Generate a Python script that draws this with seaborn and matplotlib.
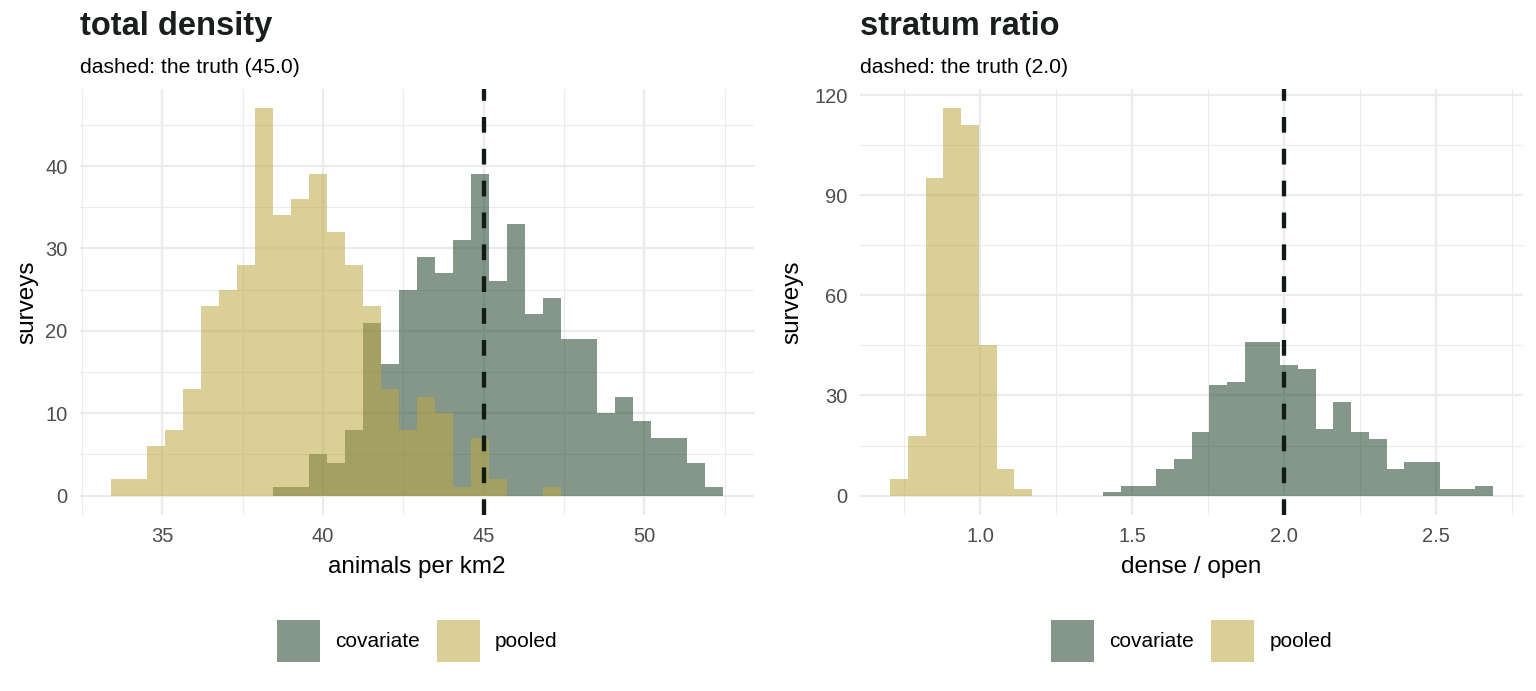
import numpy as np
import pandas as pd
import seaborn as sns
import matplotlib.pyplot as plt
from matplotlib.patches import Patch
from matplotlib.ticker import MultipleLocator

# ---- data (400 simulated surveys per method) ----
methods = ["covariate", "pooled"]

# panel 1: total density, 34 shared bins
dens_lo, dens_hi, dens_nbins = 33.39, 52.46, 34
dens_covariate = [0, 0, 0, 0, 0, 0, 0, 0, 0, 1, 1, 5, 4, 8, 21, 16, 25,
                  29, 27, 31, 39, 26, 33, 22, 24, 19, 19, 10, 12, 9, 7, 7, 4, 1]
dens_pooled = [2, 2, 6, 8, 13, 23, 25, 28, 47, 34, 36, 39, 32, 28, 23, 13, 8,
               12, 10, 1, 7, 2, 0, 0, 1, 0, 0, 0, 0, 0, 0, 0, 0, 0]
dens_truth = 45.0

# panel 2: stratum ratio, 34 shared bins
ratio_lo, ratio_hi, ratio_nbins = 0.704, 2.6875, 34
ratio_covariate = [0, 0, 0, 0, 0, 0, 0, 0, 0, 0, 0, 0, 1, 3, 3, 8, 11,
                   19, 33, 34, 46, 46, 39, 38, 20, 28, 19, 17, 8, 10, 10, 2, 2, 3]
ratio_pooled = [5, 18, 95, 116, 111, 45, 8, 2, 0, 0, 0, 0, 0, 0, 0, 0, 0,
                0, 0, 0, 0, 0, 0, 0, 0, 0, 0, 0, 0, 0, 0, 0, 0, 0]
ratio_truth = 2.0

colors = {"covariate": "#1f422a", "pooled": "#bda842"}
ALPHA = 0.55

sns.set_style("white")
plt.rcParams["font.family"] = ["Liberation Sans", "DejaVu Sans"]


def make_df(lo, hi, n, cov, pooled):
    edges = np.linspace(lo, hi, n + 1)
    mids = (edges[:-1] + edges[1:]) / 2
    df = pd.DataFrame({
        "value": np.concatenate([mids, mids]),
        "count": cov + pooled,
        "method": ["covariate"] * n + ["pooled"] * n,
    })
    return df, edges.tolist()


fig = plt.figure(figsize=(15.36, 6.91), dpi=100)
W, H = 1536, 691
ax1 = fig.add_axes([80 / W, 1 - 515 / H, 674 / W, 426 / H])
ax2 = fig.add_axes([860 / W, 1 - 515 / H, 663 / W, 426 / H])

panels = [
    (ax1, make_df(dens_lo, dens_hi, dens_nbins, dens_covariate, dens_pooled),
     dens_truth, "total density", "dashed: the truth (45.0)", "animals per km2",
     5, 2.5, 10, 5, "{:.0f}"),
    (ax2, make_df(ratio_lo, ratio_hi, ratio_nbins, ratio_covariate, ratio_pooled),
     ratio_truth, "stratum ratio", "dashed: the truth (2.0)", "dense / open",
     0.5, 0.25, 30, 15, "{:.1f}"),
]

for ax, (df, edges), truth, title, subtitle, xlab, xmaj, xmin, ymaj, ymin, fmt in panels:
    # covariate first, pooled layered on top
    for m in methods:
        sns.histplot(data=df[df["method"] == m], x="value", weights="count",
                     bins=edges, stat="count", element="bars",
                     color=colors[m], alpha=ALPHA, linewidth=0, ax=ax)
    ax.axvline(truth, color="#111a15", lw=3.1, dashes=(3.65, 3.75), zorder=5)

    ax.use_sticky_edges = False
    ax.margins(x=0.05, y=0.05)
    ax.autoscale_view()

    ax.xaxis.set_major_locator(MultipleLocator(xmaj))
    ax.xaxis.set_minor_locator(MultipleLocator(xmin))
    ax.yaxis.set_major_locator(MultipleLocator(ymaj))
    ax.yaxis.set_minor_locator(MultipleLocator(ymin))
    ax.xaxis.set_major_formatter(plt.FuncFormatter(lambda v, p, f=fmt: f.format(v)))
    ax.grid(which="major", color="#ebebeb", linewidth=1.6)
    ax.grid(which="minor", color="#ebebeb", linewidth=0.8)
    ax.set_axisbelow(True)
    for s in ax.spines.values():
        s.set_visible(False)
    ax.tick_params(which="both", length=0, labelsize=14.5, labelcolor="#4d4d4d")
    ax.tick_params(axis="x", pad=9)
    ax.tick_params(axis="y", pad=9)

    ax.set_xlabel(xlab, fontsize=17.5, color="black")
    ax.set_ylabel("surveys", fontsize=17.5, color="black")
    ax.xaxis.set_label_coords(0.5, -0.097)

    pos = ax.get_position()
    fig.text(pos.x0, 1 - 35 / H, title, fontsize=23.5, fontweight="bold",
             color="#1a1f1c", ha="left", va="baseline")
    fig.text(pos.x0, 1 - 72.7 / H, subtitle, fontsize=15.2, color="black",
             ha="left", va="baseline")

    handles = [Patch(facecolor=colors[m], alpha=ALPHA, linewidth=0) for m in methods]
    ax.legend(handles, methods, loc="center", bbox_to_anchor=(0.5, -0.296),
              ncol=2, frameon=False, fontsize=15, labelcolor="black",
              handlelength=2.07, handleheight=2.75, handletextpad=0.72,
              columnspacing=0.82)

ax1.yaxis.set_label_coords(-0.062, 0.5)
ax2.yaxis.set_label_coords(-0.085, 0.5)

fig.savefig("out.png", dpi=100, facecolor="white")
